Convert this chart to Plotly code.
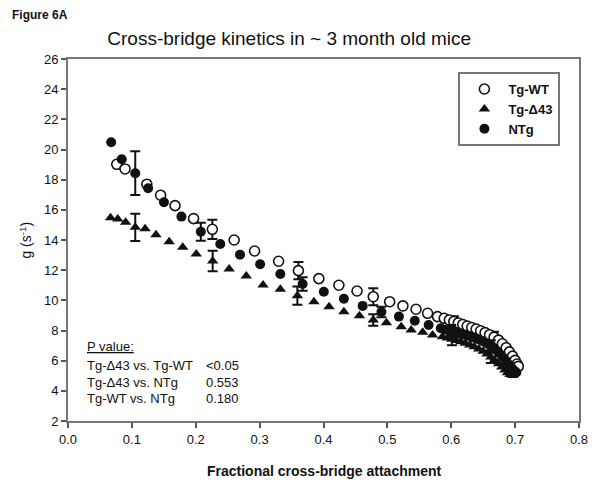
import plotly.graph_objects as go

# ---------------- data ----------------
wt_x = [0.0763, 0.0893, 0.1234, 0.1450, 0.1676, 0.1966, 0.2260, 0.2601, 0.2921, 0.3297,
        0.3607, 0.3927, 0.4241, 0.4525, 0.4779, 0.5036, 0.5243, 0.5449, 0.5630, 0.5785,
        0.589, 0.597, 0.604, 0.611, 0.618, 0.625, 0.632, 0.639, 0.646, 0.653,
        0.660, 0.667, 0.674, 0.680, 0.686, 0.691, 0.696, 0.700, 0.703, 0.705]
wt_y = [19.02, 18.71, 17.70, 16.97, 16.28, 15.42, 14.71, 14.00, 13.27, 12.59,
        11.97, 11.44, 11.00, 10.62, 10.24, 9.91, 9.63, 9.41, 9.14, 8.92,
        8.81, 8.70, 8.60, 8.50, 8.40, 8.30, 8.20, 8.10, 7.98, 7.86,
        7.72, 7.56, 7.36, 7.12, 6.86, 6.58, 6.30, 6.02, 5.78, 5.62]

d43_x = [0.0666, 0.0779, 0.0902, 0.1053, 0.1207, 0.1378, 0.1584, 0.1796, 0.2008, 0.2265,
         0.2523, 0.2791, 0.3054, 0.3324, 0.3591, 0.3850, 0.4087, 0.4319, 0.4562, 0.4779,
         0.4985, 0.5217, 0.5372, 0.5553, 0.5707, 0.5862,
         0.594, 0.601, 0.608, 0.615, 0.622, 0.629, 0.636, 0.643, 0.650, 0.656,
         0.662, 0.668, 0.674, 0.679, 0.684, 0.688, 0.692, 0.696]
d43_y = [15.48, 15.40, 15.18, 14.84, 14.75, 14.35, 13.89, 13.52, 13.07, 12.61,
         12.08, 11.62, 11.02, 10.73, 10.31, 9.91, 9.58, 9.25, 8.98, 8.70,
         8.52, 8.25, 8.03, 7.88, 7.70, 7.59,
         7.50, 7.42, 7.34, 7.25, 7.15, 7.04, 6.92, 6.78, 6.62, 6.44,
         6.24, 6.02, 5.80, 5.58, 5.38, 5.20, 5.08, 5.02]

ntg_x = [0.0676, 0.0841, 0.1053, 0.1254, 0.1502, 0.1776, 0.2079, 0.2384, 0.2693, 0.3008,
         0.3324, 0.3673, 0.4005, 0.4319, 0.4613, 0.4907, 0.5181, 0.5429, 0.5646, 0.5836,
         0.592, 0.600, 0.607, 0.614, 0.621, 0.628, 0.635, 0.642, 0.649, 0.656,
         0.662, 0.668, 0.674, 0.680, 0.686, 0.691, 0.695, 0.699, 0.702]
ntg_y = [20.48, 19.35, 18.43, 17.43, 16.50, 15.55, 14.55, 13.74, 13.03, 12.39,
         11.75, 11.08, 10.57, 10.11, 9.63, 9.23, 8.92, 8.65, 8.37, 8.15,
         8.05, 7.96, 7.88, 7.80, 7.72, 7.63, 7.53, 7.42, 7.29, 7.14,
         6.96, 6.76, 6.52, 6.26, 5.98, 5.72, 5.50, 5.32, 5.22]

# error bars: (index into series, SEM)
wt_err = [(6, 0.64), (10, 0.57), (14, 0.56), (22, 0.35), (31, 0.35)]
d43_err = [(3, 0.90), (9, 0.68), (14, 0.60), (19, 0.38), (27, 0.40), (36, 0.40)]
ntg_err = [(2, 1.45), (6, 0.60), (11, 0.45), (15, 0.35), (21, 0.40), (30, 0.40)]

x_ticks = [0.0, 0.1, 0.2, 0.3, 0.4, 0.5, 0.6, 0.7, 0.8]
y_ticks = [2, 4, 6, 8, 10, 12, 14, 16, 18, 20, 22, 24, 26]

stats_labels = ["Tg-Δ43 vs. Tg-WT", "Tg-Δ43 vs. NTg", "Tg-WT vs. NTg"]
stats_values = ["<0.05", "0.553", "0.180"]

FONT = "Liberation Sans, Arial, sans-serif"
INK = "#111111"

fig = go.Figure()


def err_trace(xs, ys, errs):
    idx = [i for i, _ in errs]
    return go.Scatter(
        x=[xs[i] for i in idx], y=[ys[i] for i in idx],
        mode="markers", marker=dict(size=1, color="rgba(0,0,0,0)"),
        error_y=dict(type="data", array=[e for _, e in errs], color=INK,
                     thickness=2, width=5),
        showlegend=False, hoverinfo="skip")


fig.add_trace(err_trace(wt_x, wt_y, wt_err))
fig.add_trace(go.Scatter(
    x=wt_x, y=wt_y, mode="markers", name="Tg-WT",
    marker=dict(symbol="circle", size=10, color="white",
                line=dict(color=INK, width=1.6))))
fig.add_trace(err_trace(d43_x, d43_y, d43_err))
fig.add_trace(go.Scatter(
    x=d43_x, y=d43_y, mode="markers", name="Tg-Δ43",
    marker=dict(symbol="triangle-up", size=10, color=INK, line=dict(width=0))))
fig.add_trace(err_trace(ntg_x, ntg_y, ntg_err))
fig.add_trace(go.Scatter(
    x=ntg_x, y=ntg_y, mode="markers", name="NTg",
    marker=dict(symbol="circle", size=10, color=INK, line=dict(width=0))))

annotations = [
    dict(text="Figure 6A", xref="paper", yref="paper", x=-0.114, y=1.121,
         xanchor="left", yanchor="middle", showarrow=False,
         font=dict(family=FONT, size=12, color=INK, weight="bold")),
    dict(text="g (s<sup>-1</sup>)", xref="paper", yref="paper", x=-0.083, y=0.5,
         xanchor="center", yanchor="middle", textangle=-90, showarrow=False,
         font=dict(family=FONT, size=14, color=INK)),
    dict(text="Fractional cross-bridge attachment", xref="paper", yref="paper",
         x=0.501, y=-0.138, xanchor="center", yanchor="middle", showarrow=False,
         font=dict(family=FONT, size=14, color=INK, weight="bold")),
    dict(text="<u>P value:</u>", xref="x", yref="y", x=0.026, y=6.94,
         xanchor="left", yanchor="middle", showarrow=False,
         font=dict(family=FONT, size=13, color=INK)),
]
stat_y = [5.71, 4.56, 3.46]
for lab, val, yy in zip(stats_labels, stats_values, stat_y):
    annotations.append(dict(text=lab, xref="x", yref="y", x=0.026, y=yy,
                            xanchor="left", yanchor="middle", showarrow=False,
                            font=dict(family=FONT, size=13, color=INK)))
    annotations.append(dict(text=val, xref="x", yref="y", x=0.213, y=yy,
                            xanchor="left", yanchor="middle", showarrow=False,
                            font=dict(family=FONT, size=13, color=INK)))

# the page body adds an 8px offset, so the figure is 8px smaller than the window
fig.update_layout(
    width=592, height=477,
    margin=dict(l=60, r=15, t=51, b=64),
    paper_bgcolor="white", plot_bgcolor="white",
    font=dict(family=FONT, color=INK),
    title=dict(text="Cross-bridge kinetics in ~ 3 month old mice",
               x=0.475, xref="container", xanchor="center",
               y=0.937, yref="container", yanchor="middle",
               font=dict(family=FONT, size=19, color=INK)),
    showlegend=True,
    legend=dict(x=0.764, y=0.964, xanchor="left", yanchor="top",
                bordercolor="#777777", borderwidth=2, bgcolor="white",
                font=dict(family=FONT, size=13, color=INK, weight="bold"),
                itemwidth=38, tracegroupgap=0),
    annotations=annotations,
)
fig.update_xaxes(range=[0, 0.8], tickvals=x_ticks, tickformat=".1f",
                 ticks="outside", ticklen=5, tickwidth=1.5, tickcolor="#555",
                 showline=True, linecolor="#777777", linewidth=2, mirror=True,
                 showgrid=False, zeroline=False,
                 tickfont=dict(family=FONT, size=13, color=INK))
fig.update_yaxes(range=[2, 26], tickvals=y_ticks,
                 ticks="outside", ticklen=5, tickwidth=1.5, tickcolor="#555",
                 showline=True, linecolor="#777777", linewidth=2, mirror=True,
                 showgrid=False, zeroline=False,
                 tickfont=dict(family=FONT, size=13, color=INK))

fig.write_html("out.html")
